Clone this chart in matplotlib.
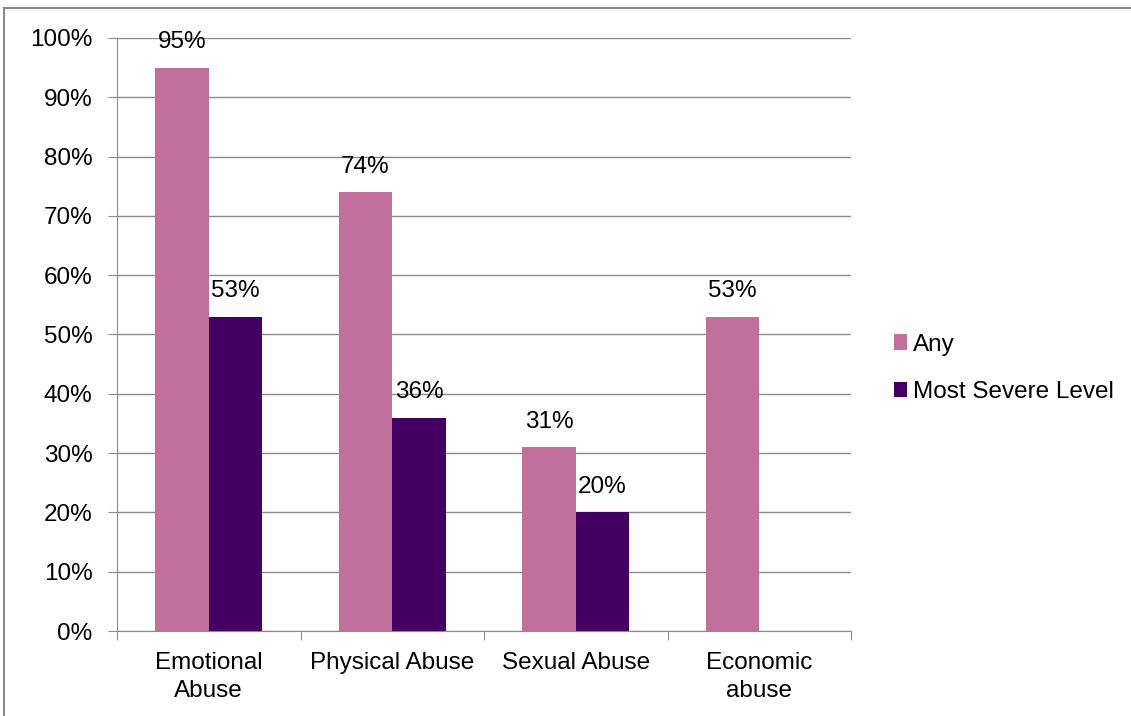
import matplotlib
matplotlib.use("Agg")
import matplotlib.pyplot as plt
from matplotlib.lines import Line2D
import numpy as np

categories = ["Emotional\nAbuse", "Physical Abuse", "Sexual Abuse", "Economic\nabuse"]
any_vals = [95, 74, 31, 53]
severe_vals = [53, 36, 20, None]
series_names = ["Any", "Most Severe Level"]
yticks = [0, 10, 20, 30, 40, 50, 60, 70, 80, 90, 100]

c_any = "#C0709A"
c_sev = "#430062"
grid_c = "#8C8C8C"
FS = 17.5

plt.rcParams['font.family'] = ['Liberation Sans', 'DejaVu Sans']
fig = plt.figure(figsize=(11.31, 7.16), dpi=100)
ax = fig.add_axes([117/1131, 1-631/716, (851-117)/1131, (631-38)/716])

x = np.arange(len(categories))
w = 0.292
sev_plot = [v if v is not None else 0 for v in severe_vals]
ax.bar(x - w/2, any_vals, w, color=c_any, label=series_names[0], zorder=3)
ax.bar(x + w/2, sev_plot, w, color=c_sev, label=series_names[1], zorder=3)

for xi, v in zip(x, any_vals):
    ax.text(xi - w/2, v + 3.3, f"{v}%", ha="center", va="baseline", fontsize=FS)
for xi, v in zip(x, severe_vals):
    if v is not None:
        ax.text(xi + w/2, v + 3.3, f"{v}%", ha="center", va="baseline", fontsize=FS)

ax.set_xlim(-0.5, len(categories) - 0.5)
ax.set_ylim(0, 100)
ax.set_yticks(yticks)
ax.set_yticklabels([f"{t}%" for t in yticks], fontsize=FS)
ax.yaxis.grid(True, color=grid_c, linewidth=1, zorder=0)
ax.set_axisbelow(True)

ax.set_xticks(np.arange(-0.5, len(categories), 1.0))
ax.set_xticklabels([])
ax.set_xticks(x, minor=True)
ax.set_xticklabels(categories, minor=True, fontsize=FS, linespacing=1.35)
ax.tick_params(axis="x", which="minor", length=0, pad=15)
ax.tick_params(axis="x", which="major", length=6.5, color=grid_c, direction="out")
ax.tick_params(axis="y", length=6.5, color=grid_c, direction="out", pad=11)

for s in ["top", "right"]:
    ax.spines[s].set_visible(False)
ax.spines["left"].set_color(grid_c)
ax.spines["bottom"].set_color(grid_c)

ax.legend(loc="center left", bbox_to_anchor=(1.045, 0.443), frameon=False,
          fontsize=FS, handlelength=0.55, handleheight=0.6,
          handletextpad=0.25, labelspacing=1.05, borderaxespad=0)

# outer frame
fig.add_artist(Line2D([4/1131, 4/1131], [0, 1-8/716], color="#8C8C8C", lw=1.5))
fig.add_artist(Line2D([4/1131, 1], [1-8/716, 1-8/716], color="#8C8C8C", lw=1.5))

fig.savefig("out.png", dpi=100)
